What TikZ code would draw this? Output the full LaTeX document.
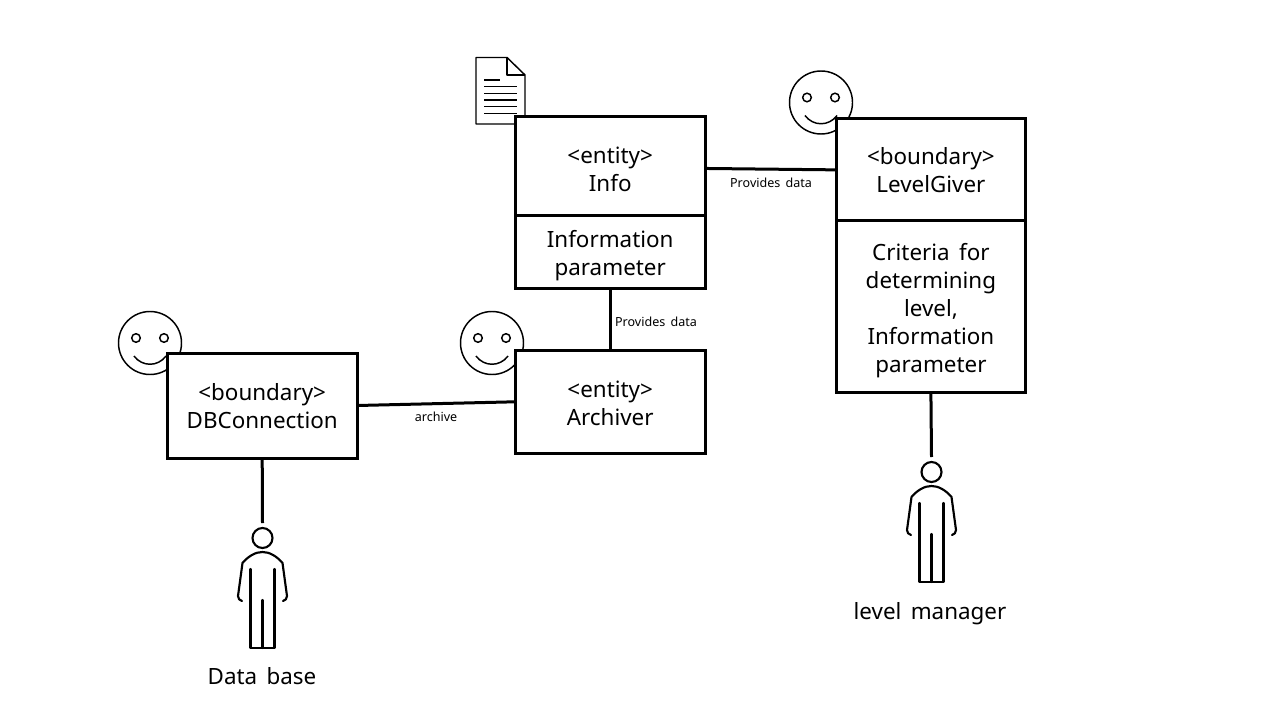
\documentclass[tikz,border=0pt]{standalone}
\usepackage{fontspec}
\setmainfont[WordSpace=1.6]{Noto Sans}
\newcommand{\boxtext}[2]{\raisebox{-#1}[0pt][0pt]{\begin{tabular}{@{}c@{}}#2\end{tabular}}}
\tikzset{
  x=0.75pt,y=-0.75pt,
  umlbox/.style={draw=black,fill=white,line width=2.25pt,inner sep=0pt,align=center,font=\fontsize{16.8pt}{21pt}\selectfont,minimum width=142.6pt,outer sep=0pt},
  link/.style={draw=black,line width=2.25pt},
  linklabel/.style={font=\fontsize{9.4pt}{11pt}\selectfont,inner sep=0pt},
  actorlabel/.style={font=\fontsize{16.8pt}{21pt}\selectfont,inner sep=0pt},
  thin line/.style={draw=black,line width=1.1pt},
  icon line/.style={draw=black,line width=1.6pt},
  doc line/.style={draw=black,line width=1.1pt}
}
\newcommand{\smileyicon}[2]{%
  \begin{scope}[shift={(#1,#2)}]
    \draw[thin line,fill=white] (0,0) circle[radius=31.5*0.75pt];
    \draw[thin line] (-14,-5) circle[radius=4.3*0.75pt];
    \draw[thin line] (14,-5) circle[radius=4.3*0.75pt];
    \draw[thin line] (-16,13) .. controls (-8,24) and (8,24) .. (16,13);
  \end{scope}}
\newcommand{\personicon}[2]{%
  \begin{scope}[shift={(#1,#2)},line cap=round,line join=round]
    \draw[icon line] (0,0) circle[radius=10*0.75pt];
    \draw[icon line] (-20.5,63) .. controls (-23,62) and (-24.5,61) .. (-24.5,58)
      -- (-20,25) .. controls (-14,18) and (-7,14) .. (0,14)
      .. controls (7,14) and (14,18) .. (20,25) -- (24.5,58)
      .. controls (24.5,61) and (23,62) .. (20.5,63);
    \draw[icon line] (-12,31) -- (-12,110) -- (12,110) -- (12,31);
    \draw[icon line] (0,62) -- (0,110);
  \end{scope}}
\begin{document}
\begin{tikzpicture}
\useasboundingbox (0,0) rectangle (1280,720);
\fill[white] (0,0) rectangle (1280,720);

% document icon
\draw[doc line,fill=white,line join=round] (476,57.5) -- (507,57.5) -- (525,75) -- (525,124) -- (476,124) -- cycle;
\draw[doc line,line join=round] (507,57.5) -- (507,75) -- (525,75);
\foreach \yy/\xx in {80/500,86.7/517,93.3/517,100/517,106.7/517,113.3/517}
  \draw[doc line] (484,\yy) -- (\xx,\yy);

% smileys
\smileyicon{150}{343}
\smileyicon{492}{343}
\smileyicon{821}{102.5}

% boxes
\node[umlbox,minimum height=74.25pt] (infotop) at (610.2,165.8) {\boxtext{9pt}{<entity>\\Info}};
\node[umlbox,minimum height=54.75pt] (infobot) at (610.2,251.8) {\boxtext{7.5pt}{Information\\parameter}};
\node[umlbox,minimum height=77.25pt] (archiver) at (610.2,401.8) {\boxtext{7.5pt}{<entity>\\Archiver}};
\node[umlbox,minimum height=78.75pt] (db) at (262.2,405.5) {\boxtext{6.9pt}{<boundary>\\DBConnection}};
\node[umlbox,minimum width=142.2pt,minimum height=76.5pt] (lgtop) at (930.9,169.2) {\boxtext{7.3pt}{<boundary>\\LevelGiver}};
\node[umlbox,minimum width=142.2pt,minimum height=129pt] (lgbot) at (930.9,306.2) {\boxtext{7.5pt}{Criteria for\\determining\\level,\\Information\\parameter}};

% people
\personicon{262.5}{538}
\personicon{931.5}{472}
\coordinate (dbactor) at (262.5,523);
\coordinate (lgactor) at (931.5,457);

% connectors
\draw[link] ([yshift=-2pt]infotop.east) -- ([yshift=-0.5pt]lgtop.west);
\draw[link] (infobot.south) -- (archiver.north);
\draw[link] (db.east) -- (archiver.west);
\draw[link] (db.south) -- (dbactor);
\draw[link] (lgbot.south) -- (lgactor);

% labels
\node[linklabel] (l1) at (771,183) {Provides data};
\node[linklabel] (l2) at (656,322) {Provides data};
\node[linklabel] (l3) at (436,417) {archive};
\node[actorlabel] (a1) at (262,676) {Data base};
\node[actorlabel] (a2) at (930,614) {level manager};
\end{tikzpicture}
\end{document}
